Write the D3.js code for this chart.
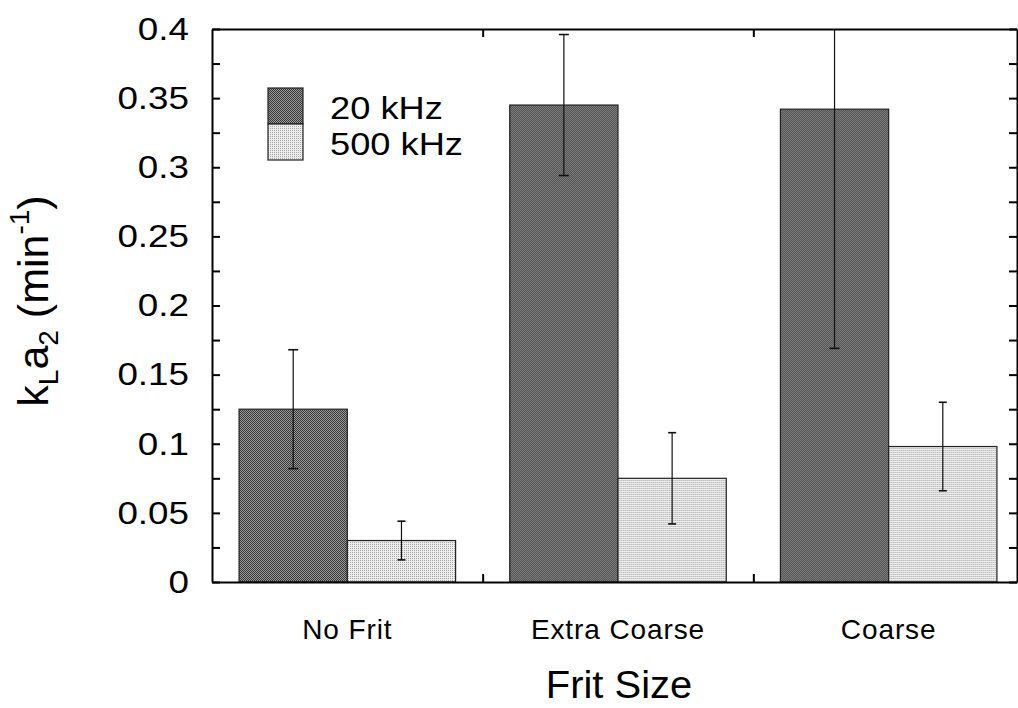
<!DOCTYPE html>
<html>
<head>
<meta charset="utf-8">
<script src="https://cdn.jsdelivr.net/npm/d3@7/dist/d3.min.js"></script>
<style>
  html, body { margin: 0; padding: 0; background: #fff; }
  svg { display: block; }
  text { font-family: "Liberation Sans", Arial, Helvetica, sans-serif; fill: #000; }
</style>
</head>
<body>
<svg id="chart" width="1018" height="708"></svg>
<script>
// Oxygen transfer coefficient by frit size, two ultrasound frequencies
const categories = ["No Frit", "Extra Coarse", "Coarse"];
const seriesNames = ["20 kHz", "500 kHz"];
const values20k  = [0.125, 0.345, 0.342];
const values500k = [0.030, 0.075, 0.098];
const errors20k  = [0.043, 0.051, 0.173];
const errors500k = [0.014, 0.033, 0.032];
const yTickValues = [0, 0.025, 0.05, 0.075, 0.1, 0.125, 0.15, 0.175, 0.2, 0.225, 0.25, 0.275, 0.3, 0.325, 0.35, 0.375, 0.4];
const yTickLabels = ["0", "", "0.05", "", "0.1", "", "0.15", "", "0.2", "", "0.25", "", "0.3", "", "0.35", "", "0.4"];

const svg = d3.select("#chart");
const frame = { left: 212, right: 1017, top: 29, bottom: 582 };

const x0 = d3.scaleBand().domain(categories).range([frame.left, 1024]).paddingInner(0).paddingOuter(0);
const x1 = d3.scaleBand().domain(seriesNames).range([0, x0.bandwidth()]).paddingInner(0).paddingOuter(0.25);
const y = d3.scaleLinear().domain([0, 0.4]).range([frame.bottom, frame.top]);

// Halftone-like fills
const defs = svg.append("defs");
const pDark = defs.append("pattern").attr("id", "fillDark").attr("patternUnits", "userSpaceOnUse")
  .attr("width", 2).attr("height", 2);
pDark.append("rect").attr("width", 2).attr("height", 2).attr("fill", "#989898");
pDark.append("rect").attr("width", 1).attr("height", 1).attr("fill", "#383838");
pDark.append("rect").attr("x", 1).attr("y", 1).attr("width", 1).attr("height", 1).attr("fill", "#383838");
const pLight = defs.append("pattern").attr("id", "fillLight").attr("patternUnits", "userSpaceOnUse")
  .attr("width", 2).attr("height", 2);
pLight.append("rect").attr("width", 2).attr("height", 2).attr("fill", "#ececec");
pLight.append("rect").attr("width", 1).attr("height", 1).attr("fill", "#a8a8a8");
defs.append("clipPath").attr("id", "plotClip").append("rect")
  .attr("x", frame.left).attr("y", frame.top)
  .attr("width", frame.right - frame.left).attr("height", frame.bottom - frame.top);

const fills = { "20 kHz": "url(#fillDark)", "500 kHz": "url(#fillLight)" };
const rows = categories.map((c, i) => ({
  category: c,
  bars: [
    { series: "20 kHz", value: values20k[i], err: errors20k[i] },
    { series: "500 kHz", value: values500k[i], err: errors500k[i] }
  ]
}));

const plot = svg.append("g").attr("clip-path", "url(#plotClip)");
const groups = plot.selectAll("g.grp").data(rows).join("g")
  .attr("class", "grp")
  .attr("transform", d => `translate(${x0(d.category)},0)`);

groups.selectAll("rect").data(d => d.bars).join("rect")
  .attr("x", d => x1(d.series))
  .attr("y", d => y(d.value))
  .attr("width", x1.bandwidth())
  .attr("height", d => y(0) - y(d.value))
  .attr("fill", d => fills[d.series])
  .attr("stroke", "#222")
  .attr("stroke-width", 1.2);

// Error bars
const eb = groups.selectAll("g.err").data(d => d.bars).join("g").attr("class", "err")
  .attr("transform", d => `translate(${x1(d.series) + x1.bandwidth() / 2},0)`);
eb.append("line")
  .attr("y1", d => y(d.value + d.err)).attr("y2", d => y(d.value - d.err))
  .attr("stroke", "#111").attr("stroke-width", 1.2);
eb.append("line")
  .attr("x1", d => d.series === "20 kHz" ? -5 : -4).attr("x2", d => d.series === "20 kHz" ? 5 : 4)
  .attr("y1", d => y(d.value + d.err)).attr("y2", d => y(d.value + d.err))
  .attr("stroke", "#111").attr("stroke-width", 1.6);
eb.append("line")
  .attr("x1", d => d.series === "20 kHz" ? -5 : -4).attr("x2", d => d.series === "20 kHz" ? 5 : 4)
  .attr("y1", d => y(d.value - d.err)).attr("y2", d => y(d.value - d.err))
  .attr("stroke", "#111").attr("stroke-width", 1.6);

// Axes frame
const labelOf = v => yTickLabels[yTickValues.indexOf(v)];
const leftAxis = svg.append("g").attr("transform", `translate(${frame.left},0)`)
  .call(d3.axisLeft(y).tickValues(yTickValues).tickSizeInner(-8).tickSizeOuter(0).tickPadding(20)
    .tickFormat(labelOf));
leftAxis.selectAll("text").attr("font-size", 32).attr("transform", "scale(1.15,1)");
const rightAxis = svg.append("g").attr("transform", `translate(${frame.right},0)`)
  .call(d3.axisRight(y).tickValues(yTickValues).tickSizeInner(-8).tickSizeOuter(0).tickFormat(""));
[leftAxis, rightAxis].forEach(a => {
  a.select(".domain").attr("stroke-width", 2);
  a.selectAll(".tick line").attr("stroke-width", 2);
});

const sepX = categories.slice(1).map(c => x0(c));
const xTop = d3.scaleLinear().domain([frame.left, frame.right]).range([frame.left, frame.right]);
const topAxis = svg.append("g").attr("transform", `translate(0,${frame.top})`)
  .call(d3.axisTop(xTop).tickValues(sepX).tickSizeInner(-8).tickSizeOuter(0).tickFormat(""));
const bottomAxis = svg.append("g").attr("transform", `translate(0,${frame.bottom})`)
  .call(d3.axisBottom(xTop).tickValues(sepX).tickSizeInner(-8).tickSizeOuter(0).tickFormat(""));
[topAxis, bottomAxis].forEach(a => {
  a.select(".domain").attr("stroke-width", 2.2);
  a.selectAll(".tick line").attr("stroke-width", 2);
});

// Category labels
svg.append("g").selectAll("text").data(categories).join("text")
  .attr("x", d => x0(d) + x0.bandwidth() / 2)
  .attr("y", 639)
  .attr("text-anchor", "middle")
  .attr("font-size", 28)
  .attr("letter-spacing", 0.9)
  .text(d => d);

// Axis titles
svg.append("text")
  .attr("x", 619).attr("y", 698)
  .attr("text-anchor", "middle")
  .attr("font-size", 38)
  .attr("transform", "translate(619,0) scale(1.05,1) translate(-619,0)")
  .text("Frit Size");

const yTitle = svg.append("text")
  .attr("transform", "translate(48,301) rotate(-90)")
  .attr("text-anchor", "middle")
  .attr("font-size", 43);
yTitle.append("tspan").text("k");
yTitle.append("tspan").attr("font-size", 28).attr("dy", 10).text("L");
yTitle.append("tspan").attr("dy", -10).text("a");
yTitle.append("tspan").attr("font-size", 28).attr("dy", 10).text("2");
yTitle.append("tspan").attr("dy", -10).text(" (min");
yTitle.append("tspan").attr("font-size", 28).attr("dy", -19).text("-1");
yTitle.append("tspan").attr("dy", 19).text(")");

// Legend
const legend = svg.append("g").attr("transform", "translate(268,88)");
const legendRows = legend.selectAll("g").data(seriesNames).join("g")
  .attr("transform", (d, i) => `translate(0,${i * 36})`);
legendRows.append("rect")
  .attr("width", 35).attr("height", 36)
  .attr("fill", d => fills[d])
  .attr("stroke", "#222").attr("stroke-width", 1.2);
legendRows.append("text")
  .attr("x", 62).attr("y", 31)
  .attr("font-size", 31)
  .attr("transform", "translate(62,0) scale(1.17,1) translate(-62,0)")
  .text(d => d);
</script>
</body>
</html>
